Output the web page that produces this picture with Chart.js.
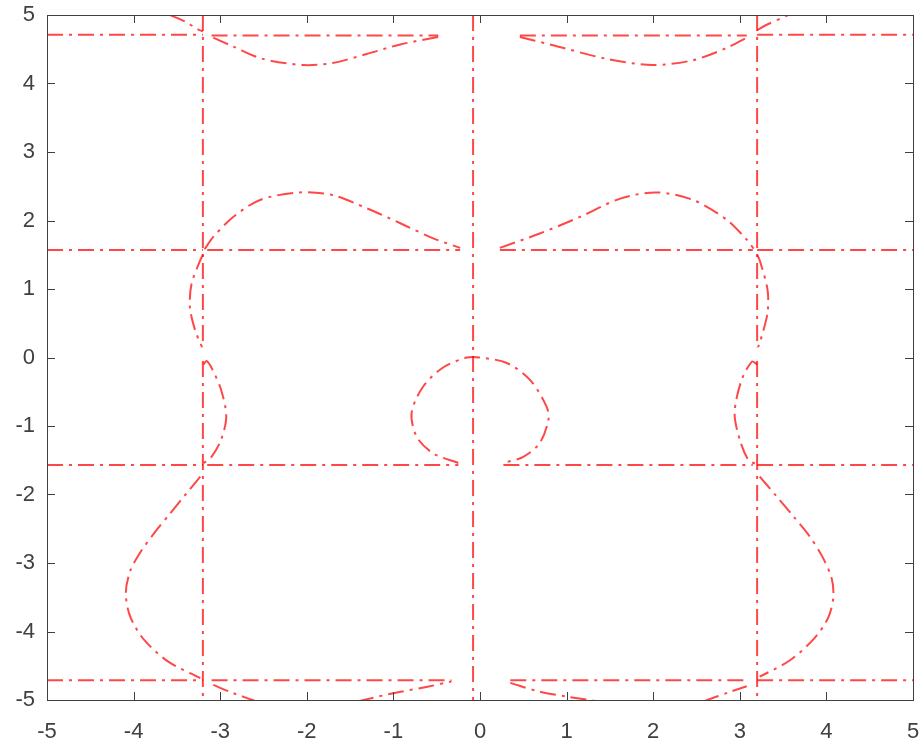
<!DOCTYPE html>
<html>
<head>
<meta charset="utf-8">
<script src="https://cdn.jsdelivr.net/npm/chart.js@4/dist/chart.umd.min.js"></script>
<style>
html,body{margin:0;padding:0;background:#fff;}
canvas{display:block;}
</style>
</head>
<body>
<canvas id="c" width="922" height="744"></canvas>
<script>
// Tick values
const xTicks = [-5,-4,-3,-2,-1,0,1,2,3,4,5];
const yTicks = [-5,-4,-3,-2,-1,0,1,2,3,4,5];

// Straight lines (null = break)
const verticalLeft   = [[-3.2,5],[-3.2,0.15],[null,null],[-3.2,-0.05],[-3.2,-5]];
const verticalCenter = [[-0.08,5],[-0.08,-5]];
const verticalRight  = [[3.2,5],[3.2,0.15],[null,null],[3.2,-0.05],[3.2,-5]];
const horiz471  = [[-5,4.71],[-3.2,4.71],[null,null],[-3.1,4.70],[-0.48,4.70],[null,null],[0.46,4.70],[3.08,4.70],[null,null],[3.2,4.71],[5,4.71]];
const horiz157  = [[-5,1.57],[-3.2,1.57],[null,null],[-3.15,1.57],[-0.23,1.57],[null,null],[0.23,1.57],[3.15,1.57],[null,null],[3.2,1.57],[5,1.57]];
const horizM157 = [[-5,-1.57],[-3.2,-1.57],[null,null],[-3.15,-1.57],[-0.25,-1.57],[null,null],[0.27,-1.57],[3.15,-1.57],[null,null],[3.2,-1.57],[5,-1.57]];
const horizM471 = [[-5,-4.71],[-3.2,-4.71],[null,null],[-3.1,-4.71],[-0.33,-4.71],[null,null],[0.35,-4.71],[3.1,-4.71],[null,null],[3.2,-4.71],[5,-4.71]];

// Curved branches
const topLeftCorner  = [[-3.58,5.0],[-3.4,4.9],[-3.27,4.80],[-3.2,4.76]];
const topRightCorner = [[3.2,4.78],[3.3,4.85],[3.56,5.0]];
const topLeftLoop  = [[-3.08,4.67],[-2.85,4.54],[-2.51,4.36],[-2.04,4.27],[-1.70,4.30],[-1.31,4.43],[-0.92,4.57],[-0.48,4.68]];
const topRightLoop = [[0.46,4.68],[0.81,4.57],[1.46,4.36],[1.99,4.27],[2.46,4.34],[2.85,4.52],[3.08,4.67]];
const midLeftArch  = [[-3.18,1.58],[-3.08,1.76],[-2.85,2.05],[-2.54,2.30],[-2.08,2.41],[-1.70,2.37],[-1.31,2.18],[-0.92,1.96],[-0.54,1.74],[-0.23,1.60]];
const midRightArch = [[0.23,1.60],[0.69,1.81],[1.15,2.05],[1.62,2.32],[2.04,2.41],[2.46,2.30],[2.85,2.01],[3.08,1.72],[3.16,1.59]];
const leftUpperLens  = [[-3.2,1.50],[-3.23,1.42],[-3.33,1.08],[-3.35,0.74],[-3.29,0.40],[-3.21,0.15]];
const leftLowerLens  = [[-3.19,-0.10],[-3.16,-0.05],[-3.1,-0.15],[-2.99,-0.47],[-2.93,-0.86],[-2.99,-1.20],[-3.1,-1.45],[-3.19,-1.54]];
const rightUpperLens = [[3.2,1.50],[3.23,1.42],[3.32,0.99],[3.32,0.65],[3.23,0.21],[3.21,0.15]];
const rightLowerLens = [[3.2,-0.10],[3.14,-0.06],[3.02,-0.33],[2.94,-0.81],[3.0,-1.20],[3.10,-1.50],[3.18,-1.55]];
const centralLoop = [[-0.25,-1.54],[-0.54,-1.40],[-0.73,-1.16],[-0.79,-0.81],[-0.66,-0.43],[-0.43,-0.15],[-0.15,0.0],[0.0,0.0],[0.31,-0.08],[0.58,-0.33],[0.77,-0.72],[0.79,-0.91],[0.69,-1.25],[0.50,-1.45],[0.27,-1.54]];
const lowerLeftBulge  = [[-3.23,-1.74],[-3.40,-2.00],[-3.58,-2.28],[-3.76,-2.56],[-3.92,-2.84],[-4.04,-3.12],[-4.09,-3.44],[-4.04,-3.78],[-3.88,-4.12],[-3.60,-4.44],[-3.23,-4.68]];
const lowerRightBulge = [[3.23,-1.74],[3.42,-2.02],[3.62,-2.32],[3.80,-2.60],[3.95,-2.90],[4.06,-3.22],[4.08,-3.50],[4.02,-3.80],[3.86,-4.10],[3.58,-4.42],[3.23,-4.66]];
const bottomArcLA = [[-3.08,-4.78],[-2.85,-4.90],[-2.58,-5.02]];
const bottomArcLB = [[-1.41,-5.02],[-1.0,-4.90],[-0.62,-4.81],[-0.33,-4.73]];
const bottomArcRA = [[0.35,-4.75],[0.69,-4.88],[1.0,-4.95],[1.42,-5.03]];
const bottomArcRB = [[2.58,-5.02],[2.89,-4.88],[3.08,-4.80]];

const straightSets = [verticalLeft, verticalCenter, verticalRight, horiz471, horiz157, horizM157, horizM471];
const curveSets = [topLeftCorner, topRightCorner, topLeftLoop, topRightLoop, midLeftArch, midRightArch,
  leftUpperLens, leftLowerLens, rightUpperLens, rightLowerLens, centralLoop, lowerLeftBulge, lowerRightBulge,
  bottomArcLA, bottomArcLB, bottomArcRA, bottomArcRB];

const RED = 'rgba(255,0,0,0.72)';
function toPts(arr){ return arr.map(p => ({x:p[0], y:p[1]})); }
function ds(arr, tension){
  return {data: toPts(arr), showLine:true, borderColor:RED, borderWidth:2, borderDash:[16,6,3,6],
    pointRadius:0, pointHoverRadius:0, tension:tension, spanGaps:false, fill:false};
}
const datasets = straightSets.map(a => ds(a,0)).concat(curveSets.map(a => ds(a,0.3)));

const AXIS = '#404040';
const boxPlugin = {
  id:'boxTicks',
  afterDraw(chart){
    const {ctx, chartArea:a, scales} = chart;
    ctx.save();
    ctx.strokeStyle = AXIS; ctx.lineWidth = 1;
    ctx.strokeRect(Math.round(a.left)+0.5, Math.round(a.top)+0.5, Math.round(a.right-a.left), Math.round(a.bottom-a.top));
    const L = 8;
    ctx.beginPath();
    xTicks.forEach(v => {
      const px = Math.round(scales.x.getPixelForValue(v))+0.5;
      ctx.moveTo(px, a.bottom); ctx.lineTo(px, a.bottom-L);
      ctx.moveTo(px, a.top); ctx.lineTo(px, a.top+L);
    });
    yTicks.forEach(v => {
      const py = Math.round(scales.y.getPixelForValue(v))+0.5;
      ctx.moveTo(a.left, py); ctx.lineTo(a.left+L, py);
      ctx.moveTo(a.right, py); ctx.lineTo(a.right-L, py);
    });
    ctx.stroke();
    ctx.restore();
  }
};

function zeroPad(s){ s.paddingLeft = 0; s.paddingRight = 0; s.paddingTop = 0; s.paddingBottom = 0; }
const font = {family:"'Liberation Sans', Arial, sans-serif", size:22};
new Chart(document.getElementById('c'), {
  type:'scatter',
  data:{datasets},
  options:{
    responsive:false, animation:false,
    layout:{autoPadding:false, padding:{top:15, right:9, left:0, bottom:0}},
    plugins:{legend:{display:false}, tooltip:{enabled:false}},
    scales:{
      x:{type:'linear', min:-5, max:5,
        afterBuildTicks(s){ s.ticks = xTicks.map(v=>({value:v})); },
        afterFit(s){ s.height = 44; zeroPad(s); },
        grid:{display:false, drawTicks:false}, border:{display:false},
        ticks:{color:AXIS, font, padding:19, maxRotation:0, autoSkip:false}},
      y:{type:'linear', min:-5, max:5,
        afterBuildTicks(s){ s.ticks = yTicks.map(v=>({value:v})); },
        afterFit(s){ s.width = 47; zeroPad(s); },
        grid:{display:false, drawTicks:false}, border:{display:false},
        ticks:{color:AXIS, font, padding:12, autoSkip:false}}
    }
  },
  plugins:[boxPlugin]
});
</script>
</body>
</html>
